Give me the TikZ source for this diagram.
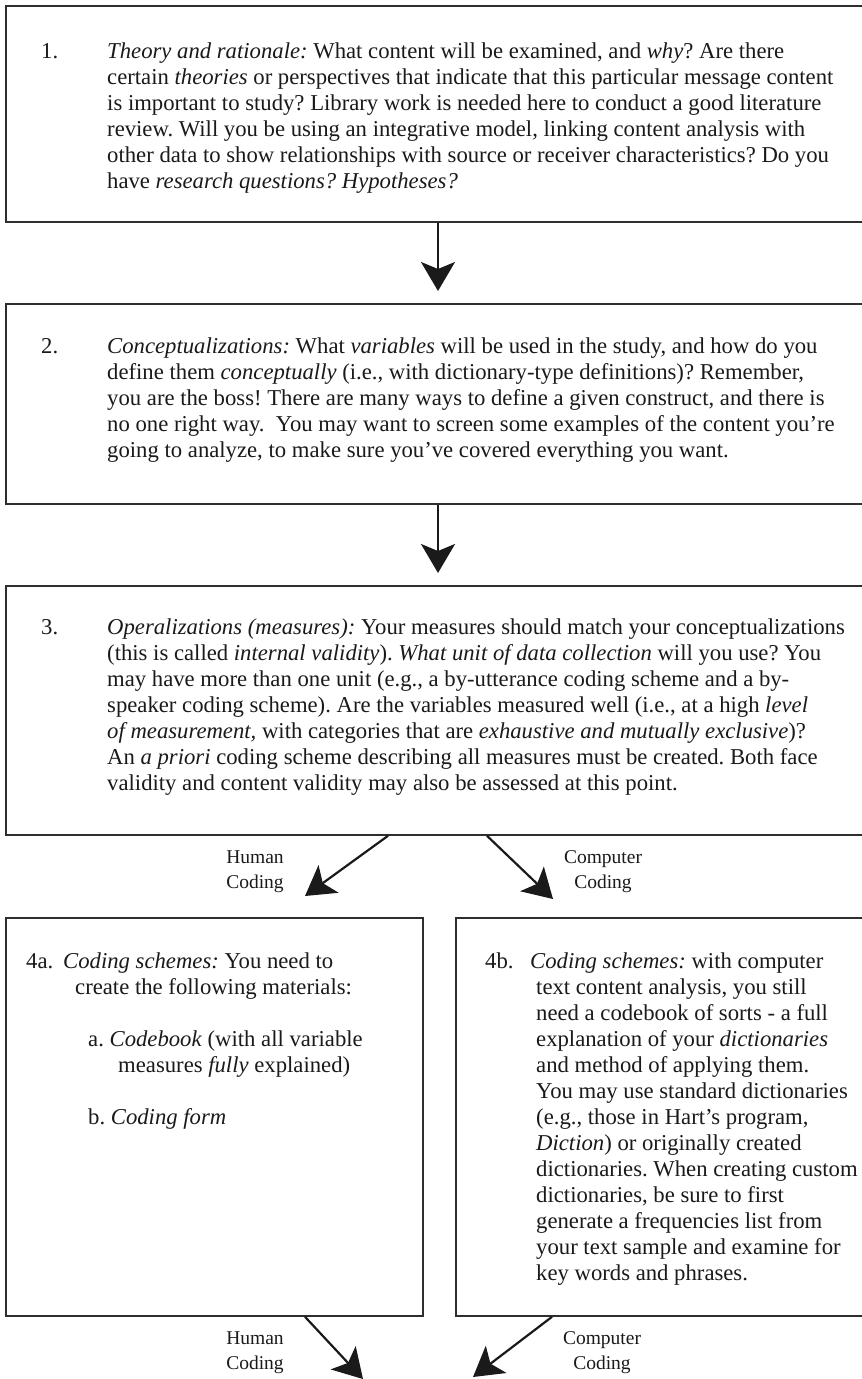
\documentclass[tikz,border=0pt]{standalone}
\usepackage{fontspec}
\setmainfont{Liberation Serif}
\usetikzlibrary{arrows.meta,calc}
\definecolor{ink}{HTML}{1A1A1A}
\definecolor{edge}{HTML}{2E2E2E}
\tikzset{
  box/.style={draw=edge, line width=1.8pt, rectangle, inner sep=0pt, anchor=north west},
  txt/.style={inner sep=0pt, anchor=base west, text=ink, font=\fontsize{22.7}{26}\selectfont},
  lbl/.style={inner sep=0pt, align=center, text=ink, font=\fontsize{19.5}{25}\selectfont},
  arr/.style={draw=ink, line width=2.2pt, -{Stealth[length=29pt,width=34pt,inset=7pt]}}
}
\newcommand{\bodytext}[2]{\parbox[t]{#1}{\frenchspacing\raggedright #2}}
\newcommand{\hangtext}[3]{\parbox[t]{#1}{\frenchspacing\raggedright\leftskip=#2\hspace*{-#2}#3}}
\begin{document}
\begin{tikzpicture}[x=1pt,y=1pt]
\useasboundingbox (0,0) rectangle (862,-1379);
\fill[white] (0,0) rectangle (862,-1379);

% boxes
\node[box, minimum width=861pt, minimum height=216pt] (b1) at (5,-5) {};
\node[box, minimum width=861pt, minimum height=200pt] (b2) at (5,-303) {};
\node[box, minimum width=861pt, minimum height=249pt] (b3) at (5,-585) {};
\node[box, minimum width=417pt, minimum height=398pt] (b4a) at (5,-917) {};
\node[box, minimum width=411pt, minimum height=398pt] (b4b) at (455,-917) {};

% box 1
\node[txt] (n1) at (41,-58) {1.};
\node[txt] (t1) at (107,-58) {\bodytext{800pt}{%
\textit{Theory and rationale:} What content will be examined, and \textit{why}? Are there\\
certain \textit{theories} or perspectives that indicate that this particular message content\\
is important to study? Library work is needed here to conduct a good literature\\
review. Will you be using an integrative model, linking content analysis with\\
other data to show relationships with source or receiver characteristics? Do you\\
have \textit{research questions? Hypotheses?}}};

% box 2
\node[txt] (n2) at (41,-353) {2.};
\node[txt] (t2) at (107,-353) {\bodytext{800pt}{%
\textit{Conceptualizations:} What \textit{variables} will be used in the study, and how do you\\
define them \textit{conceptually} (i.e., with dictionary-type definitions)? Remember,\\
you are the boss! There are many ways to define a given construct, and there is\\
no one right way.\ \ You may want to screen some examples of the content you're\\
going to analyze, to make sure you've covered everything you want.}};

% box 3
\node[txt] (n3) at (41,-634) {3.};
\node[txt] (t3) at (107,-634) {\bodytext{800pt}{%
\textit{Operalizations (measures):} Your measures should match your conceptualizations\\
(this is called \textit{internal validity}). \textit{What unit of data collection} will you use? You\\
may have more than one unit (e.g., a by-utterance coding scheme and a by-\\
speaker coding scheme). Are the variables measured well (i.e., at a high \textit{level}\\
\textit{of measurement,} with categories that are \textit{exhaustive and mutually exclusive})?\\
An \textit{a priori} coding scheme describing all measures must be created. Both face\\
validity and content validity may also be assessed at this point.}};

% box 4a
\node[txt] (n4a) at (26,-968) {4a.};
\node[txt] (t4a) at (63,-968) {\hangtext{380pt}{12pt}{%
\textit{Coding schemes:} You need to\\
create the following materials:}};
\node[txt] (t4aa) at (88,-1046) {\hangtext{380pt}{30pt}{%
a.\ \textit{Codebook} (with all variable\\
measures \textit{fully} explained)}};
\node[txt] (t4ab) at (88,-1124) {b.\ \textit{Coding form}};

% box 4b
\node[txt] (n4b) at (485,-968) {4b.};
\node[txt] (t4b) at (530,-968) {\hangtext{420pt}{6pt}{%
\textit{Coding schemes:} with computer\\
text content analysis, you still\\
need a codebook of sorts - a full\\
explanation of your \textit{dictionaries}\\
and method of applying them.\\
You may use standard dictionaries\\
(e.g., those in Hart's program,\\
\textit{Diction}) or originally created\\
dictionaries. When creating custom\\
dictionaries, be sure to first\\
generate a frequencies list from\\
your text sample and examine for\\
key words and phrases.}};

% labels
\node[lbl] (l1) at (255,-872) {Human\\Coding};
\node[lbl] (l2) at (603,-872) {Computer\\Coding};
\node[lbl] (l3) at (255,-1353) {Human\\Coding};
\node[lbl] (l4) at (602,-1353) {Computer\\Coding};

% connectors
\coordinate (ax) at (438,0);
\draw[arr] (b1.south -| ax) -- ($(b2.north -| ax)+(0,12)$);
\draw[arr] (b2.south -| ax) -- ($(b3.north -| ax)+(0,12)$);
\draw[arr] ($(b3.south west)+(383,0)$) -- ($(b4a.north west)+(300,21)$);
\draw[arr] ($(b3.south west)+(482,0)$) -- ($(b4b.north west)+(98,18)$);
\coordinate (e1) at (363,-1379);
\coordinate (e2) at (473,-1377);
\draw[arr] ($(b4a.south west)+(300,0)$) -- (e1);
\draw[arr] ($(b4b.south west)+(97,0)$) -- (e2);
\end{tikzpicture}
\end{document}
